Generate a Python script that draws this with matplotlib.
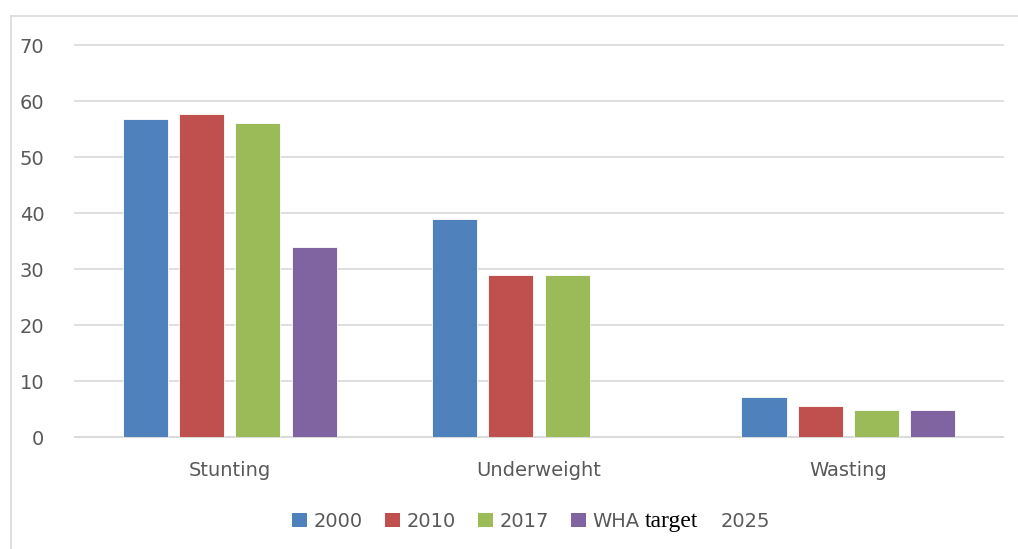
import matplotlib
matplotlib.use('Agg')
import matplotlib.pyplot as plt
from matplotlib.lines import Line2D
from matplotlib.patches import Patch
import numpy as np

categories = ['Stunting', 'Underweight', 'Wasting']
series_names = ['2000', '2010', '2017', 'WHA']
values_2000 = [56.8, 38.9, 7.1]
values_2010 = [57.6, 28.9, 5.6]
values_2017 = [56.0, 28.9, 4.9]
values_wha = [34.0, np.nan, 4.9]
colors = ['#4F81BD', '#C0504D', '#9BBB59', '#8064A2']

fig = plt.figure(figsize=(10.18, 5.49), dpi=100)
ax = fig.add_axes([0.0737, 0.204, 0.9116, 0.714])

x = np.arange(len(categories))
step = 0.182
width = 0.146
all_values = [values_2000, values_2010, values_2017, values_wha]
for k in range(4):
    ax.bar(x + (k - 1.5) * step, all_values[k], width=width, color=colors[k],
           edgecolor='white', linewidth=0.6, zorder=3)

ax.set_xlim(-0.5, 2.5)
ax.set_ylim(0, 70)
ax.set_yticks(range(0, 71, 10))
ax.set_xticks(x)
ax.set_xticklabels(categories)
ax.grid(axis='y', color='#d9d9d9', linewidth=1.2, zorder=0)
for gl in ax.get_ygridlines():
    gl.set_clip_on(False)
for s in ['top', 'right', 'left']:
    ax.spines[s].set_visible(False)
ax.spines['bottom'].set_color('#d9d9d9')
ax.spines['bottom'].set_linewidth(1.2)
ax.tick_params(axis='x', length=0, labelsize=14, colors='#595959', pad=17)
ax.tick_params(axis='y', length=0, labelsize=14, colors='#595959', pad=22)

# outer chart frame (left and top only visible)
fig.add_artist(Line2D([11 / 1018, 11 / 1018], [0, 1 - 16 / 549], color='#d9d9d9', linewidth=1.2))
fig.add_artist(Line2D([11 / 1018, 1], [1 - 16 / 549, 1 - 16 / 549], color='#d9d9d9', linewidth=1.2))

handles = [Patch(facecolor=c) for c in colors]
leg = fig.legend(handles, series_names, loc='center left', bbox_to_anchor=(0.270, 0.05), ncol=4,
                 frameon=False, fontsize=14, handlelength=0.75, handleheight=0.75,
                 handletextpad=0.35, columnspacing=1.15)
for t in leg.get_texts():
    t.set_color('#595959')

# rest of the last legend label: "target" in serif, then "2025"
fig.canvas.draw()
renderer = fig.canvas.get_renderer()
bb = leg.get_texts()[-1].get_window_extent(renderer)
tgt = fig.text((bb.x1 + 5) / 1018, 0.05, 'target', family='Liberation Serif', fontsize=17,
               color='black', va='center', ha='left')
bb2 = tgt.get_window_extent(renderer)
fig.text((bb2.x1 + 22) / 1018, 0.05, '2025', fontsize=14, color='#595959', va='center', ha='left')

fig.savefig('out.png', dpi=100)
